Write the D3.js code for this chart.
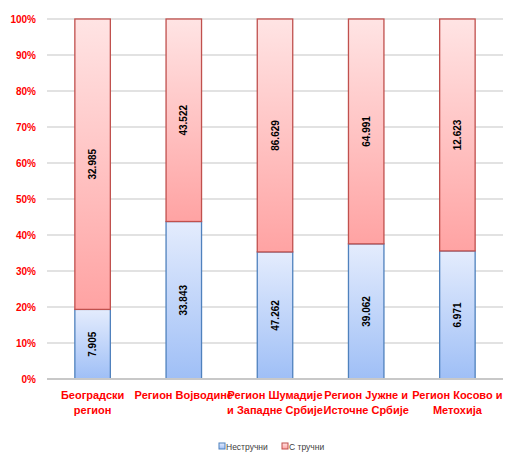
<!DOCTYPE html>
<html lang="sr">
<head>
  <meta charset="UTF-8" />
  <title>Нестручни / Стручни по регионима</title>
  <script src="https://d3js.org/d3.v7.min.js"></script>
  <style>
    body { margin: 0; background: #fff; }
    svg { display: block; }
  </style>
</head>
<body>
  <svg width="517" height="461"></svg>
  <script>
    // data
    const regions = [
      ["Београдски", "регион"],
      ["Регион Војводине"],
      ["Регион Шумадије", "и Западне Србије"],
      ["Регион Јужне и", "Источне Србије"],
      ["Регион Косово и", "Метохија"]
    ];
    const nestrucni = [7.905, 33.843, 47.262, 39.062, 6.971];
    const strucni = [32.985, 43.522, 86.629, 64.991, 12.623];
    const seriesNames = ["Нестручни", "С тручни"];
    const yTicks = [0, 0.1, 0.2, 0.3, 0.4, 0.5, 0.6, 0.7, 0.8, 0.9, 1];

    const svg = d3.select("svg"),
          margin = { top: 19, right: 14, bottom: 82, left: 47 },
          width = +svg.attr("width") - margin.left - margin.right,
          height = +svg.attr("height") - margin.top - margin.bottom;

    const defs = svg.append("defs");
    function grad(id, top, bottom) {
      const g = defs.append("linearGradient").attr("id", id)
        .attr("x1", 0).attr("y1", 0).attr("x2", 0).attr("y2", 1);
      g.append("stop").attr("offset", "0%").attr("stop-color", top);
      g.append("stop").attr("offset", "100%").attr("stop-color", bottom);
    }
    grad("gBlue", "#e4ecfd", "#9fbff6");
    grad("gRed", "#ffe4e4", "#ffa3a3");

    const chart = svg.append("g")
      .attr("transform", `translate(${margin.left},${margin.top})`);

    const x = d3.scaleBand().domain(d3.range(regions.length)).range([0, width]).paddingInner(0.6).paddingOuter(0.3);
    const y = d3.scaleLinear().domain([0, 1]).range([height, 0]);

    // gridlines
    chart.append("g")
      .selectAll("line")
      .data(yTicks.slice(1))
      .join("line")
      .attr("x1", 0).attr("x2", width)
      .attr("y1", d => y(d)).attr("y2", d => y(d))
      .attr("stroke", "#d9d9d9")
      .attr("stroke-width", 1.5);

    // y axis labels
    const yAxis = chart.append("g")
      .call(d3.axisLeft(y).tickValues(yTicks).tickFormat(d3.format(".0%")).tickSize(0).tickPadding(11));
    yAxis.select(".domain").remove();
    yAxis.selectAll("text")
      .attr("fill", "#ff0000")
      .style("font-family", "Arial, 'Liberation Sans', sans-serif")
      .style("font-size", "10px")
      .style("font-weight", "bold");

    const rows = regions.map((r, i) => {
      const total = nestrucni[i] + strucni[i];
      return { i, a: nestrucni[i], b: strucni[i], pa: nestrucni[i] / total };
    });

    const bars = chart.append("g").selectAll("g").data(rows).join("g");

    bars.append("rect")
      .attr("x", d => x(d.i) + 0.5)
      .attr("y", d => y(d.pa))
      .attr("width", x.bandwidth() - 1)
      .attr("height", d => height - y(d.pa))
      .attr("fill", "url(#gBlue)")
      .attr("stroke", "#4f81bd")
      .attr("stroke-width", 1.3);

    bars.append("rect")
      .attr("x", d => x(d.i) + 0.5)
      .attr("y", y(1))
      .attr("width", x.bandwidth() - 1)
      .attr("height", d => y(d.pa) - y(1))
      .attr("fill", "url(#gRed)")
      .attr("stroke", "#c0504d")
      .attr("stroke-width", 1.3);

    const fmt = v => v.toFixed(3);
    function valueLabel(cx, cy, txt) {
      chart.append("text")
        .attr("transform", `translate(${cx},${cy}) rotate(-90)`)
        .attr("text-anchor", "middle")
        .attr("dy", "0.35em")
        .style("font-family", "'Liberation Sans Narrow', 'Arial Narrow', 'Liberation Sans', sans-serif")
        .style("font-size", "10px")
        .style("font-weight", "bold")
        .attr("fill", "#000")
        .text(txt);
    }
    rows.forEach(d => {
      const cx = x(d.i) + x.bandwidth() / 2;
      valueLabel(cx, (y(0) + y(d.pa)) / 2, fmt(d.a));
      valueLabel(cx, (y(d.pa) + y(1)) / 2, fmt(d.b));
    });

    // x axis baseline
    chart.append("line")
      .attr("x1", 0).attr("x2", width)
      .attr("y1", height).attr("y2", height)
      .attr("stroke", "#c8c8c8")
      .attr("stroke-width", 2);

    // category labels
    const cat = chart.append("g").selectAll("text").data(regions).join("text")
      .attr("x", (d, i) => x(i) + x.bandwidth() / 2)
      .attr("y", height + 20)
      .attr("text-anchor", "middle")
      .attr("fill", "#ff0000")
      .style("font-family", "'Liberation Sans Narrow', 'Arial Narrow', 'Liberation Sans', sans-serif")
      .style("font-size", "11px")
      .style("font-weight", "bold");
    cat.selectAll("tspan").data(d => d).join("tspan")
      .attr("x", function () { return this.parentNode.getAttribute("x"); })
      .attr("dy", (d, j) => j === 0 ? 0 : 14.5)
      .text(d => d);

    // legend
    const legend = svg.append("g").attr("transform", "translate(219,443)");
    const swatch = [["#9fbff6", "#4f81bd"], ["#ffa3a3", "#c0504d"]];
    const offs = [0, 63];
    seriesNames.forEach((name, i) => {
      const g = legend.append("g").attr("transform", `translate(${offs[i]},0)`);
      g.append("rect").attr("width", 6).attr("height", 6)
        .attr("fill", i === 0 ? "url(#gBlue)" : "url(#gRed)")
        .attr("stroke", swatch[i][1]).attr("stroke-width", 1);
      g.append("text").attr("x", 7).attr("y", 6.5)
        .style("font-family", "'Liberation Sans Narrow', 'Arial Narrow', 'Liberation Sans', sans-serif")
        .style("font-size", "8.5px")
        .attr("fill", "#404040")
        .text(name);
    });
  </script>
</body>
</html>
